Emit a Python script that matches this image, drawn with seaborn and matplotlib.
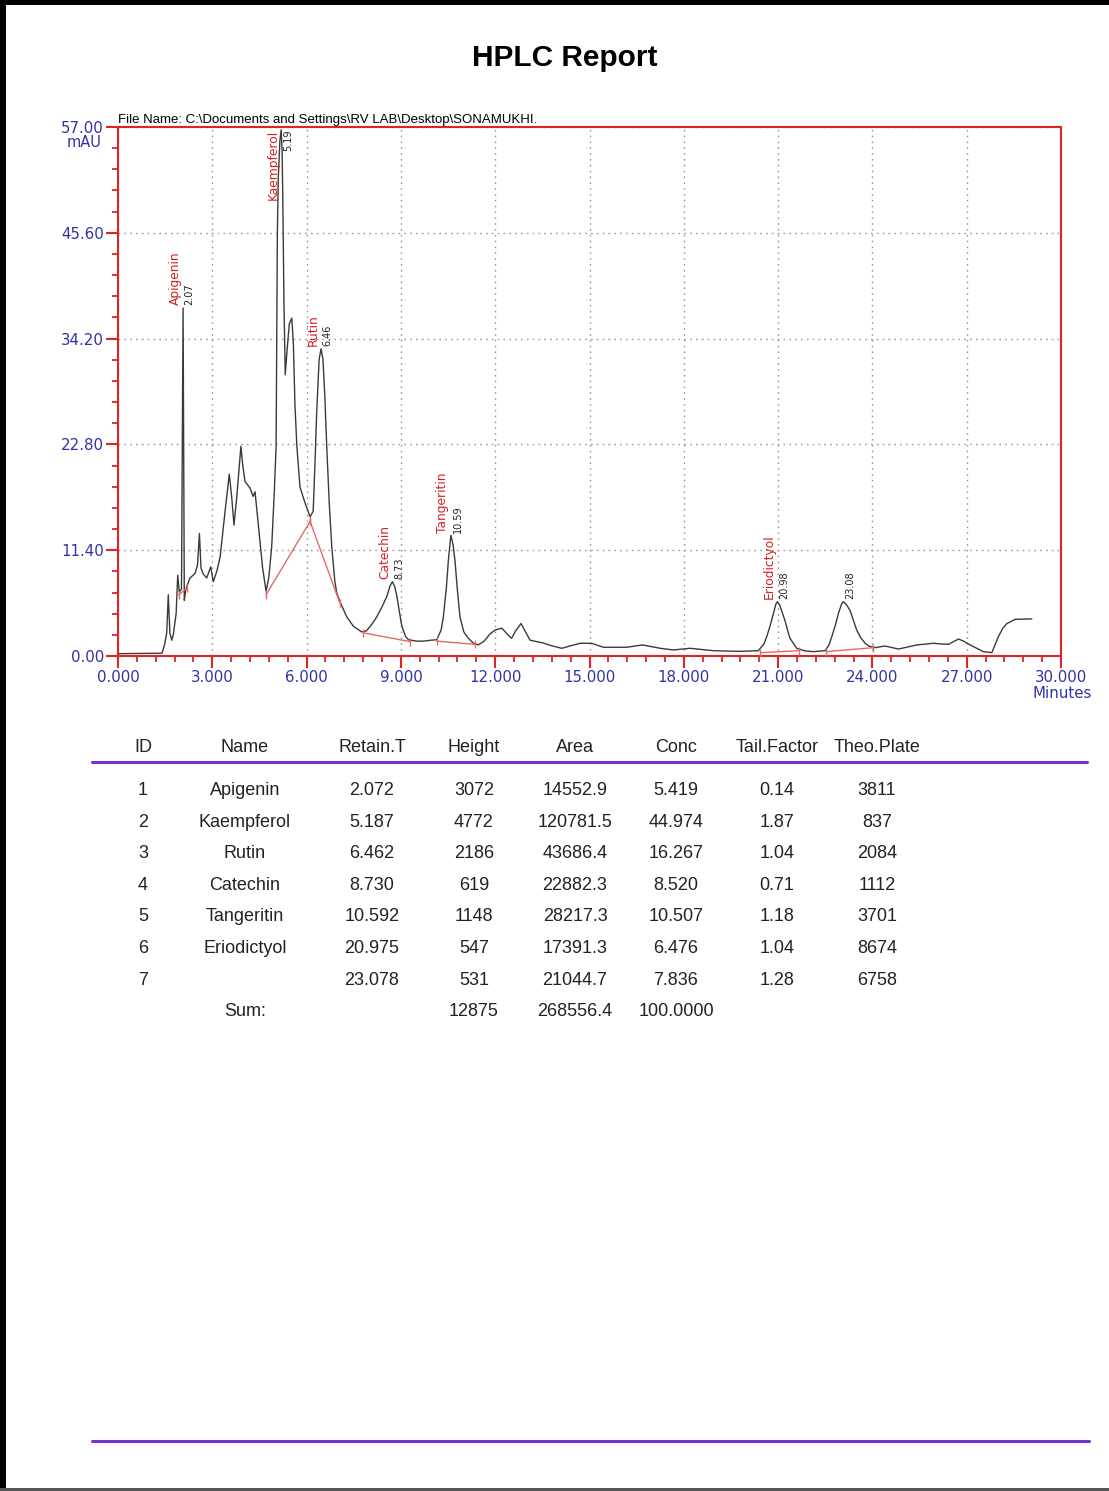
import numpy as np
import pandas as pd
import matplotlib
matplotlib.use("Agg")
import matplotlib.pyplot as plt
from matplotlib.ticker import FixedLocator, FormatStrFormatter
from matplotlib.patches import Rectangle
from matplotlib.lines import Line2D
import seaborn as sns

# ---------------- chromatogram trace (minutes, mAU) ----------------
time_min = [0.00, 1.40, 1.48, 1.55, 1.60, 1.65, 1.71, 1.76, 1.85, 1.90, 1.95, 2.02,
            2.07, 2.11, 2.15, 2.19, 2.29, 2.45, 2.53, 2.59, 2.64, 2.70, 2.82, 2.95,
            3.03, 3.15, 3.25, 3.40, 3.54, 3.62, 3.69, 3.78, 3.86, 3.91, 3.97, 4.04,
            4.20, 4.30, 4.36, 4.47, 4.60, 4.71, 4.80, 4.89, 4.97, 5.03, 5.07, 5.10,
            5.15, 5.19, 5.22, 5.24, 5.28, 5.32, 5.38, 5.45, 5.53, 5.58, 5.63, 5.69,
            5.79, 5.95, 6.11, 6.21, 6.28, 6.32, 6.40, 6.46, 6.52, 6.58, 6.64, 6.72,
            6.80, 6.90, 6.96, 7.06, 7.28, 7.49, 7.75, 7.90, 8.05, 8.23, 8.40, 8.55,
            8.66, 8.73, 8.80, 8.87, 8.95, 9.03, 9.15, 9.24, 9.50, 9.71, 9.95, 10.14,
            10.28, 10.35, 10.45, 10.51, 10.59, 10.66, 10.72, 10.80, 10.88, 11.00, 11.15, 11.30,
            11.46, 11.65, 11.84, 12.00, 12.21, 12.40, 12.52, 12.65, 12.82, 12.95, 13.11, 13.53,
            13.80, 14.12, 14.40, 14.70, 15.07, 15.44, 16.18, 16.69, 17.25, 17.67, 18.20, 18.94,
            19.79, 20.37, 20.55, 20.64, 20.75, 20.85, 20.93, 20.98, 21.05, 21.12, 21.22, 21.30,
            21.38, 21.59, 21.85, 22.12, 22.49, 22.62, 22.71, 22.82, 22.92, 23.02, 23.08, 23.18,
            23.29, 23.40, 23.50, 23.62, 23.77, 23.90, 24.09, 24.40, 24.83, 25.41, 25.94, 26.20,
            26.42, 26.74, 26.90, 27.11, 27.53, 27.80, 28.01, 28.15, 28.28, 28.54, 29.07]
signal_mau = [0.25, 0.30, 1.20, 2.50, 6.60, 2.50, 1.70, 2.30, 4.60, 8.70, 6.90, 7.20,
              37.50, 6.00, 7.00, 7.50, 8.40, 8.90, 9.80, 13.20, 9.50, 8.90, 8.40, 9.60,
              8.00, 9.20, 10.70, 15.40, 19.60, 17.00, 14.10, 17.20, 20.50, 22.60, 20.50, 18.80,
              18.10, 17.20, 17.70, 13.90, 9.50, 7.00, 8.50, 11.80, 17.50, 22.60, 45.60, 51.60,
              55.50, 56.70, 54.50, 50.00, 38.00, 30.30, 33.00, 35.80, 36.40, 33.50, 27.00, 22.60,
              18.20, 16.50, 15.00, 15.60, 22.00, 26.20, 32.00, 33.10, 32.00, 28.00, 22.60, 16.50,
              11.80, 8.00, 6.80, 5.85, 4.20, 3.20, 2.60, 2.70, 3.30, 4.20, 5.30, 6.40,
              7.60, 8.00, 7.50, 6.50, 4.80, 3.20, 2.10, 1.75, 1.60, 1.60, 1.70, 1.75,
              2.80, 4.20, 7.50, 10.30, 13.00, 12.00, 10.30, 7.00, 4.20, 2.60, 1.90, 1.40,
              1.20, 1.60, 2.40, 2.80, 3.00, 2.30, 1.90, 2.70, 3.50, 2.70, 1.70, 1.40,
              1.10, 0.83, 1.10, 1.37, 1.37, 0.94, 0.94, 1.19, 0.83, 0.65, 0.83, 0.57,
              0.50, 0.57, 1.30, 2.10, 3.30, 4.60, 5.60, 5.85, 5.50, 4.80, 3.80, 2.80,
              1.90, 0.83, 0.55, 0.47, 0.57, 1.20, 2.10, 3.30, 4.60, 5.60, 5.85, 5.50,
              4.90, 3.80, 2.80, 2.00, 1.37, 1.05, 0.90, 1.08, 0.75, 1.19, 1.37, 1.30,
              1.26, 1.83, 1.60, 1.19, 0.47, 0.36, 2.10, 3.00, 3.50, 3.95, 4.00]

# identified peaks
peak_names = ["Apigenin", "Kaempferol", "Rutin", "Catechin", "Tangeritin", "Eriodictyol", ""]
peak_times = [2.07, 5.19, 6.46, 8.73, 10.59, 20.98, 23.08]

# integration baselines (start time, start mAU, end time, end mAU)
base_t0 = [1.93, 4.71, 6.11, 7.80, 10.14, 20.43, 22.53]
base_y0 = [6.60, 6.60, 14.50, 2.50, 1.60, 0.36, 0.47]
base_t1 = [2.20, 6.11, 7.06, 9.29, 11.36, 21.65, 24.03]
base_y1 = [7.30, 14.50, 5.70, 1.55, 1.26, 0.57, 0.90]

# axis scales
x_ticks = [0.0, 3.0, 6.0, 9.0, 12.0, 15.0, 18.0, 21.0, 24.0, 27.0, 30.0]
y_ticks = [0.00, 11.40, 22.80, 34.20, 45.60, 57.00]

# ---------------- results table ----------------
tbl_header = ["ID", "Name", "Retain.T", "Height", "Area", "Conc", "Tail.Factor", "Theo.Plate"]
tbl_id = ["1", "2", "3", "4", "5", "6", "7"]
tbl_name = ["Apigenin", "Kaempferol", "Rutin", "Catechin", "Tangeritin", "Eriodictyol", ""]
tbl_rt = ["2.072", "5.187", "6.462", "8.730", "10.592", "20.975", "23.078"]
tbl_height = ["3072", "4772", "2186", "619", "1148", "547", "531"]
tbl_area = ["14552.9", "120781.5", "43686.4", "22882.3", "28217.3", "17391.3", "21044.7"]
tbl_conc = ["5.419", "44.974", "16.267", "8.520", "10.507", "6.476", "7.836"]
tbl_tail = ["0.14", "1.87", "1.04", "0.71", "1.18", "1.04", "1.28"]
tbl_plate = ["3811", "837", "2084", "1112", "3701", "8674", "6758"]
sum_height = "12875"
sum_area = "268556.4"
sum_conc = "100.0000"

# ---------------- styling ----------------
sns.set_style("white")
plt.rcParams["font.family"] = ["Liberation Sans", "DejaVu Sans"]

RED = "#e02424"
BLUE = "#3232a8"
PURPLE = "#7433d0"
W, H = 1109, 1491


def fx(px):
    return px / W


def fy(py):
    return 1 - py / H


fig = plt.figure(figsize=(W / 100, H / 100), dpi=100)
ax = fig.add_axes([fx(118), fy(656), (1061 - 118) / W, (656 - 127) / H])

df = pd.DataFrame({"time": time_min, "signal": signal_mau})
sns.lineplot(data=df, x="time", y="signal", ax=ax, color="#3a3a3a", lw=1.0,
             estimator=None, sort=False, zorder=3)

# integration baselines with end marks
for t0, y0, t1, y1 in zip(base_t0, base_y0, base_t1, base_y1):
    ax.plot([t0, t1], [y0, y1], color="#e36a6a", lw=1.0, zorder=4,
            marker="|", markersize=6, markeredgewidth=1.0)

ax.set_xlim(0, 30)
ax.set_ylim(0, 57)
ax.set_xlabel("")
ax.set_ylabel("")

ax.xaxis.set_major_locator(FixedLocator(x_ticks))
ax.yaxis.set_major_locator(FixedLocator(y_ticks))
ax.xaxis.set_minor_locator(FixedLocator(np.linspace(0, 30, 51)))
ax.yaxis.set_minor_locator(FixedLocator(np.linspace(0, 57, 26)))
ax.xaxis.set_major_formatter(FormatStrFormatter("%.3f"))
ax.yaxis.set_major_formatter(FormatStrFormatter("%.2f"))

ax.tick_params(which="major", direction="out", length=8.6, width=1.5, color=RED,
               labelcolor=BLUE, labelsize=10.8, pad=1.5, labelfontfamily="DejaVu Sans",
               bottom=True, left=True, top=False, right=False)
ax.tick_params(which="minor", direction="out", length=4.3, width=1.3, color=RED,
               bottom=True, left=True, top=False, right=False)

for sp in ax.spines.values():
    sp.set_visible(True)
    sp.set_color(RED)
    sp.set_linewidth(1.5)

ax.grid(True, which="major", color="#9a9a9a", lw=1.0, linestyle=(0, (1.2, 3.0)), zorder=0)
ax.set_axisbelow(True)

# axis units
ax.annotate("mAU", xy=(0, 1), xycoords="axes fraction", xytext=(-24.5, -11.2),
            textcoords="offset points", ha="center", va="center",
            color=BLUE, fontsize=10.5, family="DejaVu Sans")
ax.annotate("Minutes", xy=(1, 0), xycoords="axes fraction", xytext=(0.5, -27.0),
            textcoords="offset points", ha="center", va="center",
            color=BLUE, fontsize=10.8, family="DejaVu Sans")

# peak labels
t_arr = np.asarray(time_min)
s_arr = np.asarray(signal_mau)
for name, t in zip(peak_names, peak_times):
    y = s_arr[np.argmin(np.abs(t_arr - t))]
    if y > 0.85 * 57:
        va, dy = "top", 0.0
    else:
        va, dy = "bottom", 2.0
    if name:
        ax.annotate(name, xy=(t, y), xytext=(-1.0, dy), textcoords="offset points",
                    rotation=90, ha="right", va=va, color="#d42020",
                    fontsize=8.8, family="DejaVu Sans", zorder=5)
    ax.annotate(f"{t:.2f}", xy=(t, y), xytext=(1.2, dy), textcoords="offset points",
                rotation=90, ha="left", va=va, color="#222222",
                fontsize=7.0, family="DejaVu Sans", zorder=5)

# ---------------- page texts ----------------
fig.text(fx(565), fy(58), "HPLC Report", ha="center", va="center",
         fontsize=21.5, weight="bold", color="black")
fig.text(fx(118), fy(123), r"File Name: C:\Documents and Settings\RV LAB\Desktop\SONAMUKHI.",
         ha="left", va="baseline", fontsize=9.5, color="black")

col_x = [143, 245, 372, 474, 575, 676, 777, 877]
for cx, h in zip(col_x, tbl_header):
    fig.text(fx(cx), fy(752.5), h, ha="center", va="baseline", fontsize=13, color="#222222")

fig.add_artist(Line2D([fx(92), fx(1087)], [fy(762), fy(762)], color=PURPLE, lw=2.2))

rows = list(zip(tbl_id, tbl_name, tbl_rt, tbl_height, tbl_area, tbl_conc, tbl_tail, tbl_plate))
for i, row in enumerate(rows):
    base = 795 + i * 31.6
    for cx, val in zip(col_x, row):
        if val:
            fig.text(fx(cx), fy(base), val, ha="center", va="baseline",
                     fontsize=13, color="#222222")

sum_base = 795 + len(rows) * 31.6
for cx, val in zip([col_x[1], col_x[3], col_x[4], col_x[5]],
                   ["Sum:", sum_height, sum_area, sum_conc]):
    fig.text(fx(cx), fy(sum_base), val, ha="center", va="baseline", fontsize=13, color="#222222")

fig.add_artist(Line2D([fx(92), fx(1089)], [fy(1441), fy(1441)], color=PURPLE, lw=2.2))

# page frame
fig.add_artist(Rectangle((0, fy(5)), 1, 5 / H, transform=fig.transFigure,
                         facecolor="black", edgecolor="none"))
fig.add_artist(Rectangle((0, 0), 6 / W, 1, transform=fig.transFigure,
                         facecolor="black", edgecolor="none"))
fig.add_artist(Rectangle((0, 0), 1, 3 / H, transform=fig.transFigure,
                         facecolor="#555555", edgecolor="none"))

fig.savefig("out.png", dpi=100, facecolor="white")
